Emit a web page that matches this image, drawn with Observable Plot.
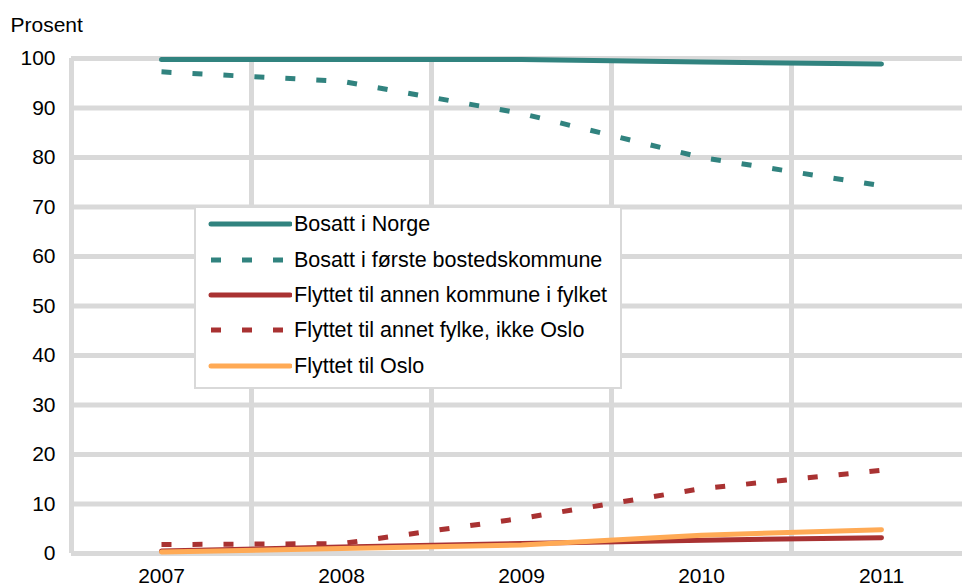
<!DOCTYPE html>
<html>
<head>
<meta charset="utf-8">
<script src="https://cdn.jsdelivr.net/npm/d3@7"></script>
<script src="https://cdn.jsdelivr.net/npm/@observablehq/plot@0.6"></script>
<style>
  html, body { margin: 0; padding: 0; background: #fff; }
  #wrap { position: relative; width: 962px; height: 586px; font-family: "Liberation Sans", Arial, sans-serif; }
  #legend { position: absolute; left: 194px; top: 206px; width: 424px; height: 179px; background: #fff; border: 2px solid #d9d9d9; }
  .row { position: absolute; left: 0; height: 30px; display: flex; align-items: center; font-size: 21.5px; color: #000; white-space: nowrap; }
  .row svg { margin-left: 12px; margin-right: 2px; }
</style>
</head>
<body>
<div id="wrap"></div>
<script>
const years = [2007, 2008, 2009, 2010, 2011];
const seriesNames = [
  "Bosatt i Norge",
  "Bosatt i første bostedskommune",
  "Flyttet til annen kommune i fylket",
  "Flyttet til annet fylke, ikke Oslo",
  "Flyttet til Oslo"
];
const bosattNorge = [99.8, 99.8, 99.8, 99.3, 98.9];
const bosattForste = [97.3, 95.4, 88.9, 80.0, 74.3];
const annenKommune = [0.5, 1.3, 2.0, 2.7, 3.2];
const annetFylke = [1.8, 2.0, 7.1, 13.1, 16.8];
const oslo = [0.3, 1.0, 1.7, 3.7, 4.8];
const yTicks = [0, 10, 20, 30, 40, 50, 60, 70, 80, 90, 100];
const xTickLabels = ["2007", "2008", "2009", "2010", "2011"];

const colors = ["#31837f", "#31837f", "#a93232", "#a93232", "#ffaa55"];
const dashes = [null, "10,21", null, "10,21", null];

const allValues = [bosattNorge, bosattForste, annenKommune, annetFylke, oslo];
const data = allValues.flatMap((vals, i) => vals.map((v, j) => ({series: seriesNames[i], year: years[j], value: v, idx: i})));

const gridX = [years[0] - 0.5, ...years.slice(1).map(y => y - 0.5)];

const font = '"Liberation Sans", Arial, sans-serif';

const lineMarks = seriesNames.map((name, i) => Plot.line(data.filter(d => d.idx === i), {
  x: "year", y: "value",
  stroke: colors[i], strokeWidth: 5,
  strokeDasharray: dashes[i] || undefined,
  strokeLinecap: dashes[i] ? "butt" : "round",
  strokeLinejoin: "round"
}));

const chart = Plot.plot({
  width: 962,
  height: 586,
  marginLeft: 71,
  marginRight: 0,
  marginTop: 58,
  marginBottom: 33,
  style: {fontFamily: font, fontSize: "21px", color: "#000", background: "#fff"},
  x: {type: "linear", domain: [2006.5, 2011.45]},
  y: {domain: [0, 100]},
  marks: [
    Plot.ruleY(yTicks, {stroke: "#d9d9d9", strokeWidth: 5}),
    Plot.ruleX(gridX, {stroke: "#d9d9d9", strokeWidth: 5}),
    Plot.axisY(yTicks, {tickSize: 0, tickPadding: 16, fontSize: 21, label: null, stroke: "none"}),
    Plot.axisX(years, {tickSize: 0, tickPadding: 15, fontSize: 21, label: null, tickFormat: (d, i) => xTickLabels[i]}),
    Plot.text(["Prosent"], {frameAnchor: "top-left", dx: -61, dy: -33, textAnchor: "start", lineAnchor: "middle", fontSize: 21, fill: "#000"}),
    ...lineMarks
  ]
});

const wrap = document.getElementById("wrap");
wrap.appendChild(chart);

const legend = document.createElement("div");
legend.id = "legend";
const rowCenters = [16, 52, 87, 122, 158];
seriesNames.forEach((name, i) => {
  const row = document.createElement("div");
  row.className = "row";
  row.style.top = (rowCenters[i] - 15) + "px";
  const ns = "http://www.w3.org/2000/svg";
  const svg = document.createElementNS(ns, "svg");
  svg.setAttribute("width", 84);
  svg.setAttribute("height", 10);
  const ln = document.createElementNS(ns, "line");
  ln.setAttribute("x1", 3);
  ln.setAttribute("x2", 82);
  ln.setAttribute("y1", 5);
  ln.setAttribute("y2", 5);
  ln.setAttribute("stroke", colors[i]);
  ln.setAttribute("stroke-width", 5);
  if (dashes[i]) { ln.setAttribute("stroke-dasharray", dashes[i]); ln.setAttribute("stroke-linecap", "butt"); }
  else ln.setAttribute("stroke-linecap", "round");
  svg.appendChild(ln);
  row.appendChild(svg);
  const span = document.createElement("span");
  span.textContent = name;
  row.appendChild(span);
  legend.appendChild(row);
});
wrap.appendChild(legend);
</script>
</body>
</html>
